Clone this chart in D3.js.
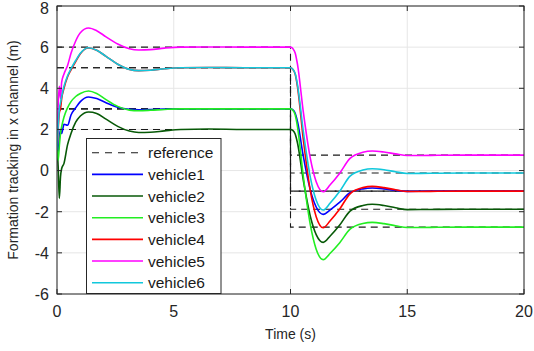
<!DOCTYPE html>
<html>
<head>
<meta charset="utf-8">
<script src="https://cdn.jsdelivr.net/npm/d3@7"></script>
<style>
	body { margin: 0; background: #fff; }
	svg { display: block; font-family: "Liberation Sans", Arial, sans-serif; }
</style>
</head>
<body>
<svg id="chart" width="534" height="351"></svg>
<script>
// Sample times (s)
const time = [0, 0.05, 0.1, 0.15, 0.2, 0.3, 0.45, 0.6, 0.8, 1.0, 1.35, 1.7, 2.1, 2.6, 3.1, 3.5, 4.0, 4.6, 5.3, 6.5, 8, 10,
	10.1, 10.2, 10.3, 10.55, 10.85, 11.1, 11.4, 11.7, 12.1, 12.55, 13.1, 13.5, 14, 14.5, 15, 16, 17.5, 20];

// Vehicle x positions
const vehicle1 = [1.1, 0.9, 1.6, 2.0, 1.8, 2.25, 2.2, 2.7, 3.05, 3.35, 3.58, 3.5, 3.3, 3.08, 2.98, 2.96, 2.97, 2.99, 3.0, 3.0, 3.0, 3.0,
	2.95, 2.79, 2.38, 0.69, -0.95, -1.77, -2.13, -1.91, -1.55, -1.08, -0.89, -0.85, -0.89, -0.96, -1.01, -1.0, -1.0, -1.0];
const vehicle2 = [1.1, 0.2, -1.35, -0.3, 0.1, 0.35, 1.25, 1.8, 2.35, 2.65, 2.85, 2.78, 2.5, 2.15, 1.92, 1.85, 1.86, 1.93, 2.0, 2.02, 2.0, 2.0,
	1.95, 1.78, 1.34, -0.47, -2.23, -3.11, -3.49, -3.18, -2.66, -1.97, -1.70, -1.64, -1.70, -1.81, -1.90, -1.89, -1.88, -1.88];
const vehicle3 = [1.1, 0.5, 1.2, 1.8, 2.13, 2.6, 3.05, 3.35, 3.6, 3.75, 3.87, 3.75, 3.45, 3.12, 2.94, 2.91, 2.93, 2.97, 3.0, 3.0, 3.0, 3.0,
	2.93, 2.71, 2.12, -0.30, -2.64, -3.82, -4.33, -4.02, -3.52, -2.85, -2.57, -2.52, -2.58, -2.68, -2.77, -2.76, -2.75, -2.75];
const vehicle4 = [1.0, 2.0, 2.8, 3.0, 3.5, 4.0, 4.55, 4.9, 5.3, 5.68, 5.96, 5.85, 5.55, 5.17, 4.92, 4.86, 4.88, 4.95, 5.0, 5.01, 5.0, 5.0,
	4.92, 4.69, 4.07, 1.5, -0.99, -2.24, -2.78, -2.44, -1.88, -1.13, -0.83, -0.77, -0.83, -0.93, -1.02, -1.01, -1.0, -1.0];
const vehicle5 = [1.2, 3.2, 4.1, 3.5, 4.3, 4.7, 5.1, 5.7, 6.3, 6.7, 6.93, 6.8, 6.5, 6.15, 5.92, 5.86, 5.88, 5.95, 6.0, 6.01, 6.0, 6.0,
	5.93, 5.72, 5.16, 2.84, 0.59, -0.54, -1.03, -0.69, -0.14, 0.59, 0.89, 0.95, 0.9, 0.81, 0.73, 0.74, 0.75, 0.75];
const vehicle6 = [1.0, 2.2, 3.0, 3.3, 3.6, 4.1, 4.6, 4.95, 5.35, 5.7, 5.97, 5.85, 5.55, 5.17, 4.92, 4.86, 4.88, 4.95, 5.0, 5.01, 5.0, 5.0,
	4.93, 4.72, 4.17, 1.89, -0.33, -1.44, -1.92, -1.58, -1.02, -0.27, 0.03, 0.09, 0.04, -0.06, -0.14, -0.13, -0.12, -0.12];

// Reference values before and after the switch at t = 10 s
const refBefore = [3, 2, 3, 5, 6, 5];
const refAfter = [-1, -1.88, -2.75, -1, 0.75, -0.12];
const refTimes = [0, 10, 10, 20];

const names = ["vehicle1", "vehicle2", "vehicle3", "vehicle4", "vehicle5", "vehicle6"];
const colors = ["#0000ff", "#075907", "#22ee22", "#ff0000", "#ff00ff", "#11c8dc"];
const series = [vehicle1, vehicle2, vehicle3, vehicle4, vehicle5, vehicle6];

const xTicks = [0, 5, 10, 15, 20];
const yTicks = [-6, -4, -2, 0, 2, 4, 6, 8];

const svg = d3.select("#chart");
const plotLeft = 57, plotRight = 524, plotTop = 6, plotBottom = 294;

const x = d3.scaleLinear().domain([0, 20]).range([plotLeft, plotRight]);
const y = d3.scaleLinear().domain([-6, 8]).range([plotBottom, plotTop]);

// Grid
const grid = svg.append("g").attr("stroke", "#e6e6e6").attr("stroke-width", 1);
grid.selectAll("line.vx").data(xTicks).join("line")
	.attr("x1", d => x(d)).attr("x2", d => x(d))
	.attr("y1", plotTop).attr("y2", plotBottom);
grid.selectAll("line.hy").data(yTicks).join("line")
	.attr("x1", plotLeft).attr("x2", plotRight)
	.attr("y1", d => y(d)).attr("y2", d => y(d));

// Clip so the curves stay inside the box
svg.append("clipPath").attr("id", "plotClip")
	.append("rect").attr("x", plotLeft).attr("y", plotTop)
	.attr("width", plotRight - plotLeft).attr("height", plotBottom - plotTop);

const plot = svg.append("g").attr("clip-path", "url(#plotClip)");

// Reference lines (dashed)
const refLine = d3.line().x(d => x(d[0])).y(d => y(d[1]));
refBefore.forEach((r0, i) => {
	const pts = refTimes.map((t, k) => [t, k < 2 ? r0 : refAfter[i]]);
	plot.append("path")
		.attr("d", refLine(pts))
		.attr("fill", "none")
		.attr("stroke", "#1a1a1a")
		.attr("stroke-width", 1.1)
		.attr("stroke-dasharray", "7,5");
});

// Vehicle curves
const curveLine = d3.line()
	.x((d, i) => x(time[i]))
	.y(d => y(d))
	.curve(d3.curveMonotoneX);

series.forEach((values, i) => {
	plot.append("path")
		.attr("d", curveLine(values))
		.attr("fill", "none")
		.attr("stroke", colors[i])
		.attr("stroke-width", 1.6)
		.attr("stroke-linejoin", "round");
});

// Axes box and ticks
const axisColor = "#262626";
svg.append("rect")
	.attr("x", plotLeft).attr("y", plotTop)
	.attr("width", plotRight - plotLeft).attr("height", plotBottom - plotTop)
	.attr("fill", "none").attr("stroke", axisColor).attr("stroke-width", 1);

const tickLen = 5;
const ticks = svg.append("g").attr("stroke", axisColor).attr("stroke-width", 1);
xTicks.forEach(t => {
	ticks.append("line").attr("x1", x(t)).attr("x2", x(t)).attr("y1", plotBottom).attr("y2", plotBottom - tickLen);
	ticks.append("line").attr("x1", x(t)).attr("x2", x(t)).attr("y1", plotTop).attr("y2", plotTop + tickLen);
});
yTicks.forEach(t => {
	ticks.append("line").attr("x1", plotLeft).attr("x2", plotLeft + tickLen).attr("y1", y(t)).attr("y2", y(t));
	ticks.append("line").attr("x1", plotRight).attr("x2", plotRight - tickLen).attr("y1", y(t)).attr("y2", y(t));
});

// Tick labels
svg.append("g").selectAll("text").data(xTicks).join("text")
	.attr("x", d => x(d)).attr("y", 317.3)
	.attr("text-anchor", "middle")
	.attr("font-size", 16).attr("fill", axisColor)
	.text(d => d);
svg.append("g").selectAll("text").data(yTicks).join("text")
	.attr("x", 49).attr("y", d => Math.max(y(d) + 5.8, 13.8))
	.attr("text-anchor", "end")
	.attr("font-size", 16).attr("fill", axisColor)
	.text(d => d);

// Axis titles
svg.append("text")
	.attr("x", (plotLeft + plotRight) / 2).attr("y", 339)
	.attr("text-anchor", "middle")
	.attr("font-size", 14).attr("fill", axisColor)
	.text("Time (s)");
svg.append("text")
	.attr("transform", `translate(18, ${(plotTop + plotBottom) / 2}) rotate(-90)`)
	.attr("text-anchor", "middle")
	.attr("font-size", 14).attr("fill", axisColor)
	.text("Formation tracking in x channel (m)");

// Legend
const legend = svg.append("g");
legend.append("rect")
	.attr("x", 86.5).attr("y", 138.5)
	.attr("width", 134.5).attr("height", 155)
	.attr("fill", "#fff").attr("stroke", axisColor).attr("stroke-width", 1);

const legendItems = [{ name: "reference", color: "#1a1a1a", dash: "7,6" }]
	.concat(names.map((n, i) => ({ name: n, color: colors[i], dash: null })));
const rowY = i => 152.7 + i * 21.67;

legendItems.forEach((item, i) => {
	legend.append("line")
		.attr("x1", 92).attr("x2", 143)
		.attr("y1", rowY(i)).attr("y2", rowY(i))
		.attr("stroke", item.color)
		.attr("stroke-width", item.dash ? 1.1 : 1.6)
		.attr("stroke-dasharray", item.dash);
	legend.append("text")
		.attr("x", 148).attr("y", rowY(i) + 5.5)
		.attr("font-size", 15.5).attr("fill", "#1a1a1a")
		.text(item.name);
});
</script>
</body>
</html>
